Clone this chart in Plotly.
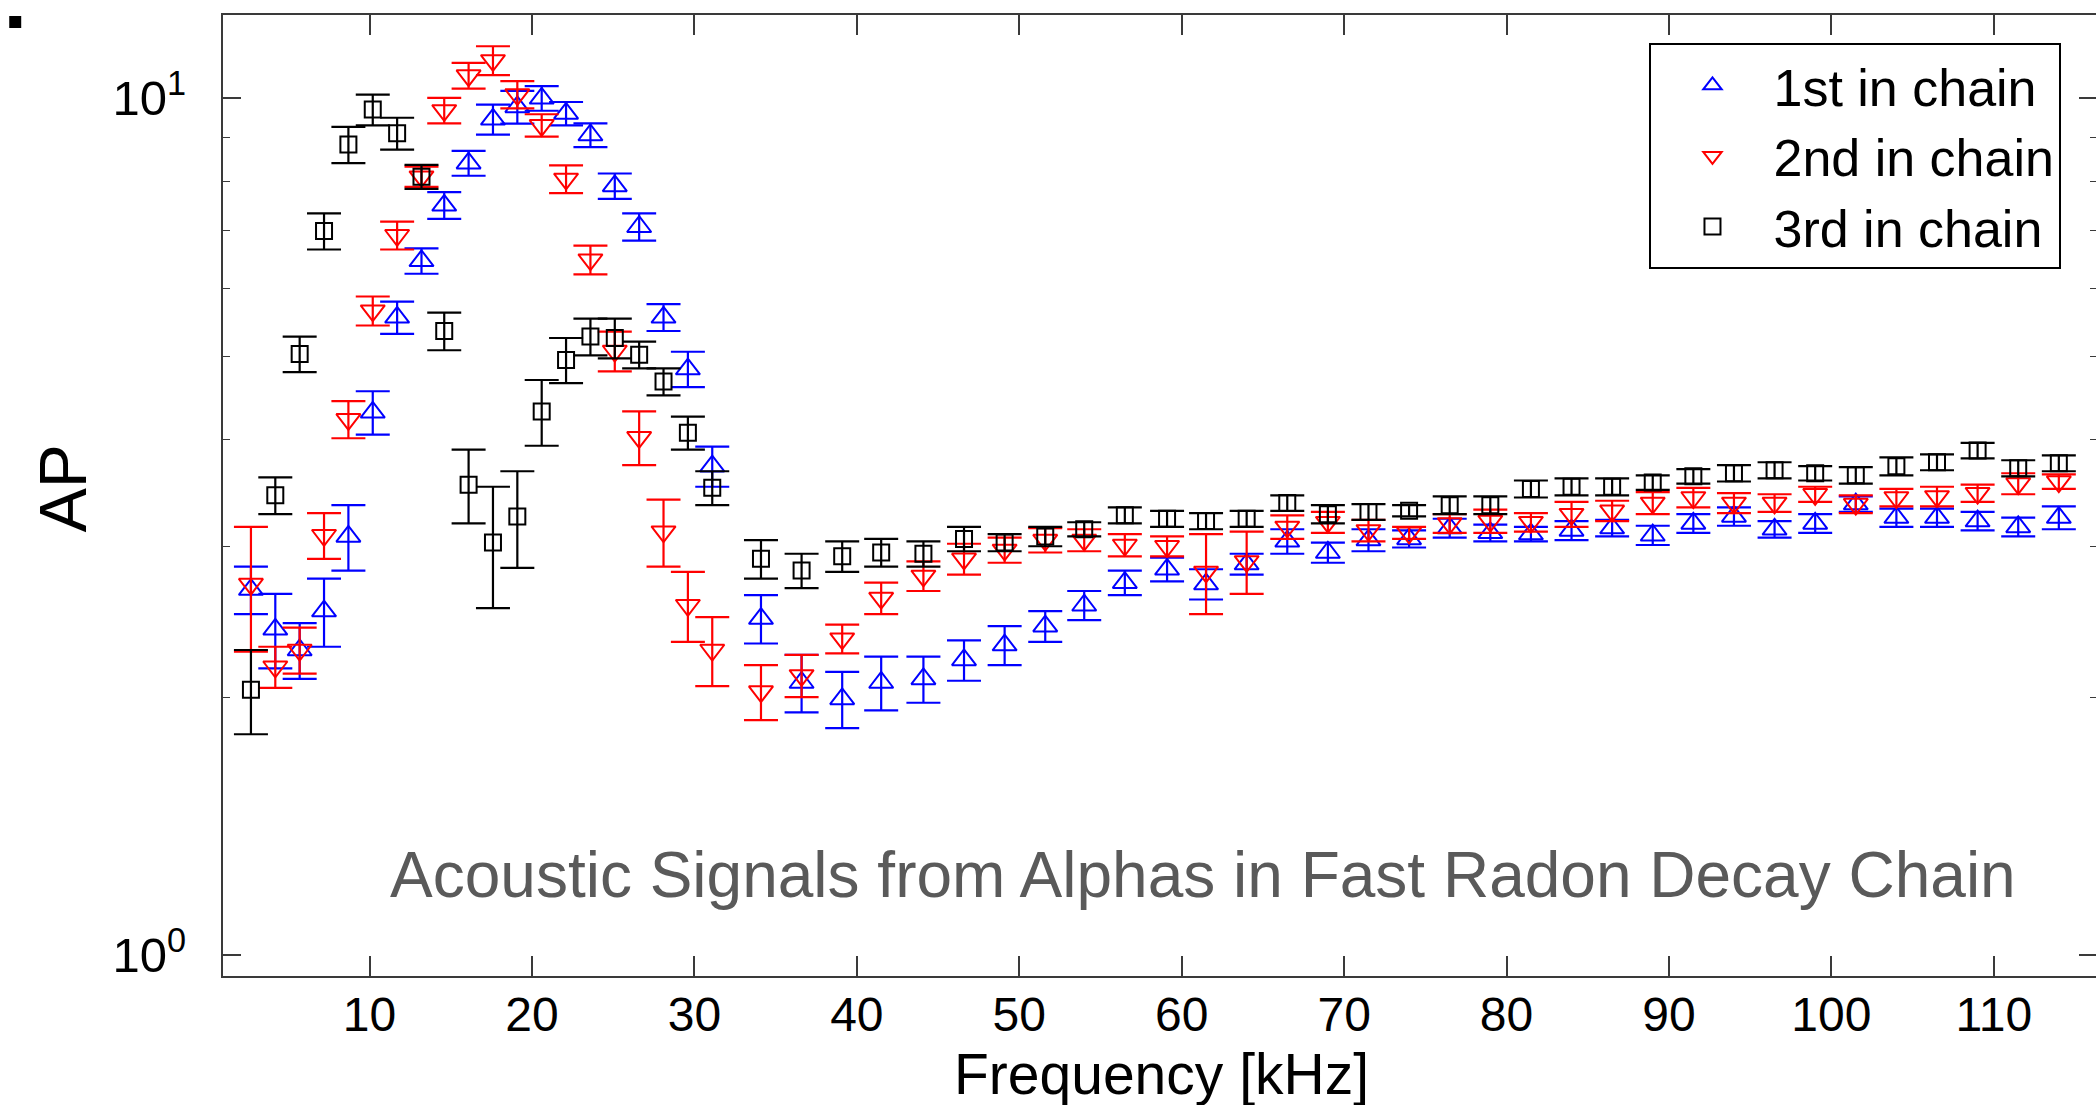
import plotly.graph_objects as go

# ---- data ----
frequency_khz = [2.7, 4.2, 5.7, 7.2, 8.7, 10.2, 11.7, 13.2, 14.6, 16.1, 17.6, 19.1, 20.6, 22.1,
                 23.6, 25.1, 26.6, 28.1, 29.6, 31.1,
                 34.1, 36.6, 39.1, 41.5, 44.1, 46.6, 49.1, 51.6, 54.0, 56.5, 59.1, 61.5, 64.0,
                 66.5, 69.0, 71.5, 74.0, 76.5, 79.0, 81.5, 84.0, 86.5, 89.0, 91.5, 94.0, 96.5,
                 99.0, 101.5, 104.0, 106.5, 109.0, 111.5, 114.0]

first_ap = [2.67, 2.40, 2.27, 2.52, 3.08, 4.30, 5.55, 6.46, 7.50, 8.40, 9.45, 9.77, 10.0, 9.60,
            9.06, 7.90, 7.08, 5.55, 4.83, 3.72,
            2.47, 2.08, 1.99, 2.08, 2.10, 2.21, 2.30, 2.42, 2.56, 2.72, 2.82, 2.71, 2.86,
            3.04, 2.95, 3.05, 3.06, 3.15, 3.11, 3.10, 3.13, 3.15, 3.09, 3.19, 3.25, 3.14,
            3.19, 3.36, 3.24, 3.24, 3.21, 3.16, 3.24]
first_err = [0.17, 0.24, 0.17, 0.23, 0.27, 0.25, 0.24, 0.22, 0.27, 0.28, 0.38, 0.43, 0.33, 0.30,
             0.29, 0.27, 0.26, 0.20, 0.23, 0.20,
             0.16, 0.16, 0.15, 0.15, 0.13, 0.12, 0.12, 0.10, 0.10, 0.09, 0.09, 0.11, 0.08,
             0.10, 0.08, 0.09, 0.07, 0.08, 0.07, 0.06, 0.08, 0.07, 0.08, 0.08, 0.08, 0.07,
             0.08, 0.07, 0.08, 0.08, 0.08, 0.08, 0.10]

second_ap = [2.71, 2.17, 2.27, 3.09, 4.22, 5.65, 6.92, 8.10, 9.68, 10.63, 11.07, 10.10, 9.30, 8.05,
             6.48, 5.07, 4.02, 3.12, 2.56, 2.27,
             2.03, 2.12, 2.34, 2.61, 2.77, 2.90, 2.97, 3.05, 3.05, 3.01, 3.00, 2.80, 2.88,
             3.16, 3.20, 3.13, 3.11, 3.19, 3.21, 3.20, 3.27, 3.30, 3.37, 3.42, 3.37, 3.37,
             3.45, 3.36, 3.42, 3.43, 3.46, 3.55, 3.57]
second_err = [0.45, 0.12, 0.14, 0.19, 0.21, 0.22, 0.26, 0.22, 0.33, 0.37, 0.43, 0.37, 0.28, 0.30,
              0.25, 0.27, 0.29, 0.28, 0.24, 0.21,
              0.15, 0.12, 0.09, 0.11, 0.11, 0.12, 0.10, 0.10, 0.09, 0.09, 0.08, 0.30, 0.24,
              0.10, 0.09, 0.09, 0.05, 0.08, 0.10, 0.08, 0.11, 0.09, 0.10, 0.09, 0.09, 0.08,
              0.07, 0.08, 0.08, 0.09, 0.08, 0.10, 0.07]

third_ap = [2.04, 3.44, 5.03, 7.00, 8.83, 9.70, 9.10, 8.10, 5.35, 3.54, 3.03, 3.25, 4.31, 4.95,
            5.27, 5.25, 5.02, 4.67, 4.07, 3.51,
            2.90, 2.81, 2.92, 2.95, 2.94, 3.06, 3.03, 3.08, 3.14, 3.26, 3.23, 3.21, 3.23,
            3.37, 3.27, 3.29, 3.30, 3.35, 3.35, 3.50, 3.52, 3.52, 3.56, 3.62, 3.65, 3.68,
            3.65, 3.63, 3.72, 3.76, 3.88, 3.70, 3.75]
third_err = [0.23, 0.17, 0.24, 0.34, 0.43, 0.40, 0.39, 0.26, 0.27, 0.35, 0.49, 0.42, 0.38, 0.30,
             0.26, 0.28, 0.18, 0.17, 0.18, 0.16,
             0.15, 0.13, 0.12, 0.11, 0.10, 0.10, 0.07, 0.08, 0.06, 0.07, 0.07, 0.07, 0.07,
             0.07, 0.08, 0.07, 0.05, 0.08, 0.08, 0.08, 0.08, 0.08, 0.07, 0.07, 0.08, 0.08,
             0.07, 0.08, 0.09, 0.08, 0.08, 0.08, 0.08]

series_names = ["1st in chain", "2nd in chain", "3rd in chain"]
x_tick_values = [10, 20, 30, 40, 50, 60, 70, 80, 90, 100, 110]
y_tick_values = [1, 10]
y_tick_labels = ["10<sup>0</sup>", "10<sup>1</sup>"]
y_minor_values = [2, 3, 4, 5, 6, 7, 8, 9]
annotation_text = "Acoustic Signals from Alphas in Fast Radon Decay Chain"

FONT = "Liberation Sans, Arial, Helvetica, sans-serif"

styles = [
    dict(color="#0000ff", symbol="triangle-up-open", size=21),
    dict(color="#ff0000", symbol="triangle-down-open", size=21),
    dict(color="#000000", symbol="square-open", size=16),
]
values = [(first_ap, first_err), (second_ap, second_err), (third_ap, third_err)]

fig = go.Figure()
for name, st, (vals, errs) in zip(series_names, styles, values):
    fig.add_trace(go.Scatter(
        x=frequency_khz, y=vals, name=name, mode="markers",
        marker=dict(symbol=st["symbol"], size=st["size"], color=st["color"],
                    line=dict(color=st["color"], width=2)),
        error_y=dict(type="data", array=errs, visible=True, color=st["color"],
                     thickness=2.2, width=17),
    ))

# the frame's right edge sits just past the visible window, as in the reference
W, H = 2100, 1105
L, R, T, B = 223, 1, 15, 129
pw = W - L - R
ph = H - T - B

def px_x(x):
    return (x - L) / pw

def px_y(y):
    return (H - B - y) / ph

axis_common = dict(showline=True, linecolor="#3a3a3a", linewidth=2, mirror="ticks",
                   ticks="inside", tickcolor="#3a3a3a", tickwidth=1.5, showgrid=False,
                   zeroline=False)

fig.update_layout(
    width=W, height=H,
    margin=dict(l=L, r=R, t=T, b=B, pad=0),
    paper_bgcolor="white", plot_bgcolor="white",
    font=dict(family=FONT, color="#000000"),
    showlegend=True,
    legend=dict(x=px_x(1651), y=px_y(43), xanchor="left", yanchor="top",
                bgcolor="white", bordercolor="#000000", borderwidth=2,
                font=dict(family=FONT, size=52, color="#000000"),
                itemwidth=112, itemsizing="trace", tracegroupgap=0),
    xaxis=dict(range=[0.98, 116.35], tickmode="array", tickvals=x_tick_values,
               ticklen=20, ticklabelstandoff=-5,
               tickfont=dict(family=FONT, size=48, color="#000000"), **axis_common),
    yaxis=dict(type="log", range=[-0.0245, 1.0972], tickmode="array",
               tickvals=y_tick_values, ticktext=y_tick_labels, ticklen=18,
               ticklabelstandoff=25,
               tickfont=dict(family=FONT, size=49, color="#000000"),
               minor=dict(tickmode="array", tickvals=y_minor_values, ticks="inside",
                          ticklen=7, tickcolor="#3a3a3a", tickwidth=1.2, showgrid=False),
               **axis_common),
    annotations=[
        dict(text=annotation_text, xref="paper", yref="paper", x=px_x(1204), y=px_y(875),
             xanchor="center", yanchor="middle", showarrow=False,
             font=dict(family=FONT, size=64, color="#5a5a5a")),
        dict(text="Frequency [kHz]", xref="paper", yref="paper", x=px_x(1163), y=px_y(1105),
             xanchor="center", yanchor="bottom", showarrow=False, yshift=-3,
             font=dict(family=FONT, size=57, color="#000000")),
        dict(text="AP", xref="paper", yref="paper", x=px_x(63), y=px_y(488),
             xanchor="center", yanchor="middle", showarrow=False, textangle=-90,
             font=dict(family=FONT, size=66, color="#000000")),
    ],
    shapes=[
        dict(type="rect", xref="paper", yref="paper", x0=px_x(9), x1=px_x(21),
             y0=px_y(28), y1=px_y(16), fillcolor="#000000", line=dict(width=0)),
    ],
)

fig.write_html("out.html", config={"displayModeBar": False},
               post_script="document.body.style.margin='0';document.body.style.overflow='hidden';")
